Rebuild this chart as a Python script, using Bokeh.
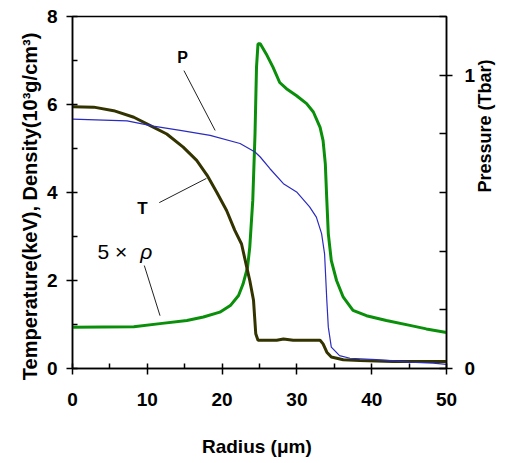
import math
from bokeh.plotting import figure
from bokeh.models import Range1d, LinearAxis, FixedTicker, Label
from bokeh.embed import file_html
from bokeh.resources import INLINE

# Temperature T (keV) vs radius (um)
t_x = [0, 2.84, 5.5, 8.2, 10.4, 12.6, 14.8, 16.6, 18.0, 19.3, 20.6, 21.7, 22.6, 23.3, 23.7, 24.2, 24.5, 24.8,
       27.3, 28.2, 29.5, 33.1, 33.5, 34.0, 34.6, 36.2, 38.4, 42.8, 47.3, 50]
t_y = [5.95, 5.94, 5.86, 5.71, 5.52, 5.33, 5.03, 4.73, 4.39, 4.0, 3.59, 3.14, 2.83, 2.3, 2.0, 1.55, 0.79, 0.64,
       0.64, 0.67, 0.64, 0.64, 0.56, 0.37, 0.26, 0.2, 0.18, 0.16, 0.16, 0.16]

# 5 x density (10^3 g/cm^3)
r_x = [0, 8.2, 11.7, 15.3, 17.5, 19.7, 21.1, 22.2, 22.8, 23.4, 23.7, 24.1, 24.4, 24.6, 24.8, 25.1, 25.9, 26.8,
       27.7, 28.6, 29.96, 31.3, 32.2, 33.1, 33.5, 33.8, 34.0, 34.2, 34.6, 35.3, 36.2, 37.5, 39.3, 41.96, 45.1,
       47.3, 50]
r_y = [0.94, 0.95, 1.02, 1.09, 1.17, 1.28, 1.43, 1.66, 1.92, 2.30, 2.76, 3.82, 5.33, 6.85, 7.38, 7.38, 7.15, 6.85,
       6.5, 6.36, 6.2, 6.02, 5.83, 5.48, 5.18, 4.65, 3.82, 3.06, 2.45, 2.0, 1.62, 1.32, 1.2, 1.09, 0.98,
       0.9, 0.82]

# Pressure P (Tbar)
p_x = [0, 7.3, 10.8, 14.4, 18.4, 22.4, 24.4, 25.1, 26.4, 28.2, 29.96, 31.7, 32.6, 33.3, 33.7, 34.0, 34.2, 34.6,
       35.7, 37.1, 40.6, 45.1, 48.2, 50]
p_y = [0.85, 0.844, 0.826, 0.812, 0.795, 0.767, 0.738, 0.721, 0.681, 0.63, 0.602, 0.551, 0.516, 0.46, 0.391,
       0.232, 0.141, 0.073, 0.044, 0.035, 0.03, 0.022, 0.018, 0.014]

x_ticks = [0, 10, 20, 30, 40, 50]
left_ticks = [0, 2, 4, 6, 8]
right_ticks = [0, 1]

FONT = "Liberation Sans"

p = figure(width=507, height=463, output_backend="svg", toolbar_location=None,
           x_range=Range1d(0, 50), y_range=Range1d(0, 8),
           min_border_left=72, min_border_right=60, min_border_top=16, min_border_bottom=95)
p.extra_y_ranges = {"right": Range1d(0, 1.2)}
p.xgrid.visible = False
p.ygrid.visible = False
p.outline_line_color = "black"
p.outline_line_width = 1.5
p.background_fill_color = "white"
p.border_fill_color = "white"

def style_axis(ax):
    ax.axis_line_color = "black"
    ax.axis_line_width = 1.5
    ax.major_tick_line_color = "black"
    ax.minor_tick_line_color = "black"
    ax.major_tick_line_width = 1.5
    ax.minor_tick_line_width = 1.5
    ax.major_tick_in = 5
    ax.major_tick_out = 6
    ax.minor_tick_in = 5
    ax.minor_tick_out = 0
    ax.major_label_text_font = FONT
    ax.major_label_text_font_style = "bold"
    ax.major_label_text_font_size = "19px"
    ax.major_label_text_color = "black"
    ax.axis_label_text_font = FONT
    ax.axis_label_text_font_style = "bold"
    ax.axis_label_text_color = "black"

xa = p.xaxis[0]
style_axis(xa)
xa.ticker = FixedTicker(ticks=x_ticks, minor_ticks=[5, 15, 25, 35, 45])
xa.axis_label = "Radius  (μm)"
xa.axis_label_text_font_size = "19px"
xa.major_label_standoff = 18
xa.axis_label_standoff = 27

ya = p.yaxis[0]
style_axis(ya)
ya.ticker = FixedTicker(ticks=left_ticks, minor_ticks=[1, 3, 5, 7])
ya.axis_label = "Temperature(keV), Density(10³g/cm³)" + "\u00a0" * 5
ya.axis_label_text_font_size = "20px"
ya.major_label_standoff = 9
ya.axis_label_standoff = 3

# right axis: ticks and tick labels
ra = LinearAxis(y_range_name="right")
style_axis(ra)
ra.ticker = FixedTicker(ticks=right_ticks, minor_ticks=[0.2, 0.4, 0.6, 0.8, 1.2])
ra.minor_tick_in = 7
ra.minor_tick_out = 0
ra.major_tick_in = 7
ra.major_label_standoff = 12
p.add_layout(ra, "right")

# right axis title (separate axis carrying only the label, reading bottom to top)
rl = LinearAxis(y_range_name="right")
style_axis(rl)
rl.axis_line_color = None
rl.ticker = FixedTicker(ticks=[])
rl.major_tick_in = 0
rl.major_tick_out = 0
rl.minor_tick_in = 0
rl.minor_tick_out = 0
rl.major_label_standoff = 0
rl.axis_label = "Pressure (Tbar)"
rl.axis_label_text_font_size = "18px"
rl.axis_label_standoff = 6
try:
    rl.axis_label_orientation = math.pi / 2
except Exception:
    pass
p.add_layout(rl, "right")

p.line(r_x, r_y, line_color="#0a8f0a", line_width=3)
p.line(t_x, t_y, line_color="#333300", line_width=3)
p.line(p_x, p_y, line_color="#2b2bc0", line_width=1.2, y_range_name="right")

# leader lines
p.line([14.9, 19.07], [6.77, 5.41], line_color="#222222", line_width=1)
p.line([11.6, 17.9], [3.77, 4.32], line_color="#222222", line_width=1)
p.line([9.6, 11.7], [2.34, 1.2], line_color="#222222", line_width=1)

def lab(x, y, text, size, style="bold"):
    p.add_layout(Label(x=x, y=y, text=text, text_font=FONT, text_font_style=style,
                       text_font_size=size, text_color="black", text_baseline="alphabetic"))

lab(14.0, 7.06, "P", "16px")
lab(8.67, 3.64, "T", "17px")
lab(3.33, 2.66, "5 ×", "21px", style="normal")
lab(9.07, 2.66, "ρ", "21px", style="italic")

open("out.html", "w").write(file_html(p, INLINE))
